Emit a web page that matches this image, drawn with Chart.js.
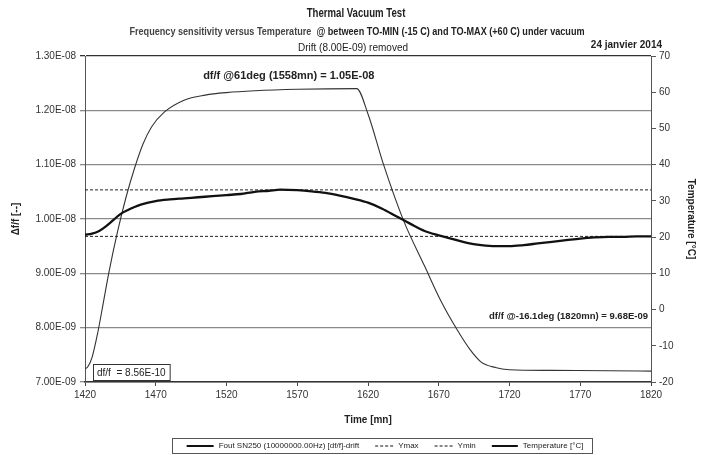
<!DOCTYPE html>
<html>
<head>
<meta charset="utf-8">
<title>Thermal Vacuum Test</title>
<script src="https://cdn.jsdelivr.net/npm/chart.js@4.4.1/dist/chart.umd.min.js"></script>
<style>
  html, body { margin: 0; padding: 0; background: #fff; }
</style>
</head>
<body>
<canvas id="tvChart" width="705" height="455"></canvas>
<script>
// data, df/f in eenheden van 1E-09
const timeMn = [1420, 1425, 1430, 1435, 1440, 1445, 1450, 1455, 1460, 1470, 1480, 1490, 1500, 1510, 1520, 1530, 1540, 1550, 1558,
  1570, 1580, 1590, 1600, 1610, 1620, 1630, 1640, 1650, 1660, 1670, 1680, 1690, 1700, 1710, 1720, 1730, 1740, 1750, 1760,
  1770, 1780, 1790, 1800, 1810, 1820];
const dfDrift = [9.71, 9.73, 9.78, 9.87, 9.98, 10.09, 10.16, 10.22, 10.27, 10.33, 10.36, 10.38, 10.40, 10.42, 10.44, 10.46, 10.50, 10.52, 10.54,
  10.53, 10.51, 10.48, 10.43, 10.37, 10.30, 10.19, 10.05, 9.91, 9.78, 9.70, 9.63, 9.56, 9.52, 9.50, 9.50, 9.52, 9.55, 9.58, 9.61,
  9.64, 9.66, 9.67, 9.67, 9.68, 9.68];

// temperatuur [°C]
const tempTime = [1420, 1422, 1425, 1429, 1433, 1437, 1443, 1449, 1455, 1461, 1467, 1476, 1490, 1505, 1520, 1540,
  1570, 1612, 1620, 1631, 1645, 1660, 1672, 1683, 1692, 1700, 1710, 1720, 1750, 1790, 1820];
const tempDeg = [-16.4, -15.8, -13.2, -6.4, 2, 10.5, 21.5, 31, 39, 45.7, 50.4, 54.5, 57.8, 59.2, 59.9, 60.4,
  60.8, 61, 54, 40, 24.7, 12, 2, -5.6, -11, -14.5, -16, -16.6, -16.8, -16.9, -17];

// Ymax / Ymin lijnen
const limitTime = [1420, 1820];
const yMaxLine = [10.536, 10.536];
const yMinLine = [9.68, 9.68];

const seriesLabels = ['Fout SN250 (10000000.00Hz) [df/f]-drift', 'Ymax', 'Ymin', 'Temperature [°C]'];

const FONT = "'Liberation Sans Narrow', 'Liberation Sans', Arial, sans-serif";

// 12 -> 1.20E-08
function sci(v) {
  const s = (v * 1e-9).toExponential(2).toUpperCase();
  const parts = s.split('E');
  const e = parseInt(parts[1], 10);
  return parts[0] + 'E' + (e < 0 ? '-' : '+') + String(Math.abs(e)).padStart(2, '0');
}

function pairs(xs, ys) {
  return xs.map((x, i) => ({x: x, y: ys[i]}));
}

// tekst smaller maken (Arial Narrow look)
function narrowText(ctx, txt, x, y, k) {
  ctx.save();
  ctx.translate(x, y);
  ctx.scale(k, 1);
  ctx.fillText(txt, 0, 0);
  ctx.restore();
}

// titels, annotaties en legende zelf tekenen
const textPlugin = {
  id: 'textes',
  afterDraw(chart) {
    const ctx = chart.ctx;
    const area = chart.chartArea;
    const sx = chart.scales.x, sy = chart.scales.y;
    ctx.save();
    ctx.fillStyle = '#222';
    ctx.textBaseline = 'middle';

    ctx.textAlign = 'center';
    ctx.font = '600 13px ' + FONT;
    narrowText(ctx, 'Thermal Vacuum Test', 356, 13, 0.74);

    // ondertitel in twee stukken
    const k = 0.91;
    const p1 = 'Frequency sensitivity versus Temperature  ';
    const p2 = '@ between TO-MIN (-15 C) and TO-MAX (+60 C) under vacuum';
    ctx.font = 'bold 10px ' + FONT;
    const w1 = ctx.measureText(p1).width * k;
    const w2 = ctx.measureText(p2).width * k;
    const left = 357 - (w1 + w2) / 2;
    ctx.textAlign = 'left';
    ctx.fillStyle = '#444';
    narrowText(ctx, p1, left, 32, k);
    ctx.fillStyle = '#222';
    narrowText(ctx, p2, left + w1, 32, k);

    ctx.textAlign = 'center';
    ctx.font = '10px ' + FONT;
    ctx.fillText('Drift (8.00E-09) removed', 353, 48);
    ctx.textAlign = 'right';
    ctx.font = 'bold 10px ' + FONT;
    ctx.fillText('24 janvier 2014', 662, 45);

    // annotaties
    ctx.textAlign = 'center';
    ctx.font = 'bold 11px ' + FONT;
    ctx.fillText('df/f @61deg (1558mn) = 1.05E-08', sx.getPixelForValue(1564), sy.getPixelForValue(12.63));
    ctx.textAlign = 'right';
    ctx.font = 'bold 9.5px ' + FONT;
    ctx.fillText('df/f @-16.1deg (1820mn) = 9.68E-09', area.right - 3, sy.getPixelForValue(8.2));

    ctx.textAlign = 'left';
    ctx.font = '10px ' + FONT;
    const boxTxt = 'df/f  = 8.56E-10';
    const bw = ctx.measureText(boxTxt).width + 8;
    ctx.fillStyle = '#fff';
    ctx.fillRect(area.left + 8, area.bottom - 18, bw, 16);
    ctx.strokeStyle = '#333';
    ctx.lineWidth = 1;
    ctx.strokeRect(area.left + 8.5, area.bottom - 17.5, bw, 16);
    ctx.fillStyle = '#222';
    ctx.fillText(boxTxt, area.left + 12, area.bottom - 9);

    // legende
    ctx.font = '8px ' + FONT;
    const lineLen = [27, 18, 18, 26];
    let total = 0;
    seriesLabels.forEach((t, i) => { total += lineLen[i] + 5 + ctx.measureText(t).width + (i < 3 ? 16 : 0); });
    const lx0 = 385 - total / 2;
    const ly = 446;
    ctx.strokeStyle = '#555';
    ctx.strokeRect(Math.round(lx0 - 15) + 0.5, 438.5, Math.round(total + 23), 15);
    let lx = lx0;
    chart.data.datasets.forEach((ds, i) => {
      ctx.beginPath();
      ctx.setLineDash(ds.borderDash || []);
      ctx.lineWidth = ds.borderDash ? 1 : 2;
      ctx.strokeStyle = '#111';
      ctx.moveTo(lx, ly);
      ctx.lineTo(lx + lineLen[i], ly);
      ctx.stroke();
      ctx.setLineDash([]);
      lx += lineLen[i] + 5;
      ctx.fillStyle = '#222';
      ctx.fillText(ds.label, lx, ly);
      lx += ctx.measureText(ds.label).width + 16;
    });
    ctx.restore();
  }
};

const canvas = document.getElementById('tvChart');
const config = {
  type: 'line',
  data: {
    datasets: [{
      label: seriesLabels[0],
      data: pairs(timeMn, dfDrift),
      yAxisID: 'y',
      borderColor: '#111',
      borderWidth: 2.3,
      pointRadius: 0,
      cubicInterpolationMode: 'monotone'
    }, {
      label: seriesLabels[1],
      data: pairs(limitTime, yMaxLine),
      yAxisID: 'y',
      borderColor: '#222',
      borderWidth: 1,
      borderDash: [3, 2],
      pointRadius: 0
    }, {
      label: seriesLabels[2],
      data: pairs(limitTime, yMinLine),
      yAxisID: 'y',
      borderColor: '#222',
      borderWidth: 1,
      borderDash: [3, 2],
      pointRadius: 0
    }, {
      label: seriesLabels[3],
      data: pairs(tempTime, tempDeg),
      yAxisID: 'y2',
      borderColor: '#333',
      borderWidth: 1.1,
      pointRadius: 0,
      cubicInterpolationMode: 'monotone'
    }]
  },
  options: {
    responsive: false,
    animation: false,
    layout: { padding: { top: 56, bottom: 22, left: 0, right: 0 } },
    plugins: {
      legend: { display: false },
      tooltip: { enabled: false }
    },
    scales: {
      x: {
        type: 'linear',
        min: 1420,
        max: 1820,
        ticks: { stepSize: 50, color: '#333', padding: 3, maxRotation: 0, callback: (v) => String(v), font: { family: FONT, size: 10 } },
        grid: { drawOnChartArea: false, tickLength: 4, color: '#444' },
        border: { color: '#333', width: 1.5 },
        title: { display: true, text: 'Time [mn]', color: '#222', font: { family: FONT, size: 10, weight: 'bold' }, padding: { top: 4, bottom: 7 } },
        afterFit(s) { s.height = 51; }
      },
      y: {
        position: 'left',
        min: 7,
        max: 13,
        ticks: { stepSize: 1, color: '#333', padding: 4, callback: sci, font: { family: FONT, size: 10 } },
        grid: { color: (c) => (c.tick && c.tick.value === 13 ? '#333' : '#8a8a8a'), lineWidth: 1.3, tickLength: 5 },
        border: { color: '#555' },
        title: { display: true, text: 'Δf/f [--]', color: '#222', font: { family: FONT, size: 10, weight: 'bold' }, padding: { top: 10, bottom: 0 } },
        afterFit(s) { s.width = 85; }
      },
      y2: {
        position: 'right',
        min: -20,
        max: 70,
        ticks: { stepSize: 10, color: '#333', padding: 3, font: { family: FONT, size: 10 } },
        grid: { drawOnChartArea: false, tickLength: 5, color: '#555' },
        border: { color: '#555' },
        title: { display: true, text: 'Temperature [°C]', color: '#222', font: { family: FONT, size: 10, weight: 'bold' }, padding: { top: 8, bottom: 0 } },
        afterFit(s) { s.width = 54; }
      }
    }
  },
  plugins: [textPlugin]
};
new Chart(canvas, config);
</script>
</body>
</html>
